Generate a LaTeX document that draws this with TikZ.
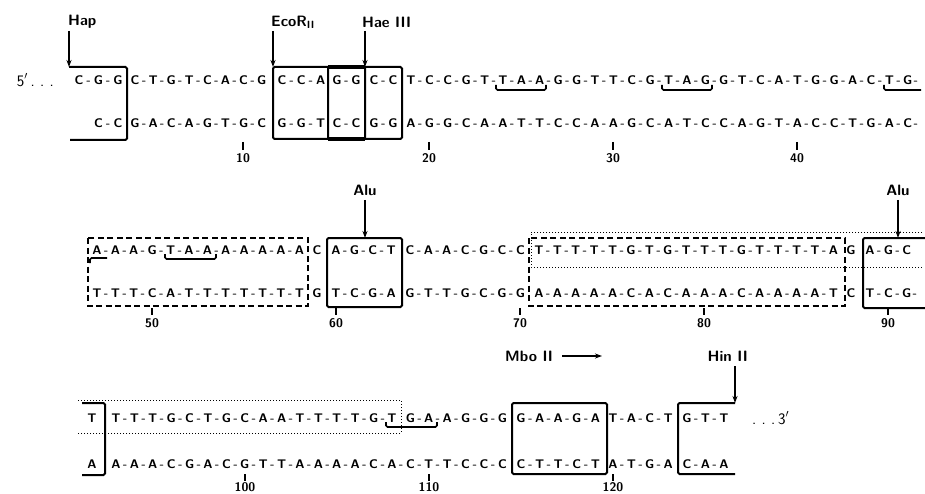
\documentclass[tikz,border=0pt]{standalone}
\usepackage{tikz}
\usetikzlibrary{arrows.meta}
\tikzset{
  base/.style={font=\fontsize{12.5}{12.5}\sffamily\bfseries,inner sep=0pt,text height=8.6pt,text depth=0pt},
  site/.style={font=\fontsize{15}{15}\sffamily\bfseries,inner sep=0pt},
  num/.style={font=\fontsize{12.5}{12.5}\sffamily\bfseries,inner sep=0pt},
  endlab/.style={font=\fontsize{16}{16}\sffamily,inner sep=0pt},
  box/.style={line width=2pt,rounded corners=1.5pt},
  dbox/.style={line width=1.8pt,dash pattern=on 6pt off 3.5pt},
  obox/.style={line width=1pt,dash pattern=on 1pt off 2pt},
  cut/.style={line width=1.3pt,-{Stealth[length=7pt,width=5pt]}},
  codon/.style={line width=1.6pt,rounded corners=1.5pt},
  tick/.style={line width=1.2pt}
}
% one strand segment: name, first x, pitch, y, bases
\newcommand{\strand}[5]{%
  \foreach \b [count=\i from 0] in {#5}{
    \node[base] (#1-\i) at ({#2+\i*#3},#4) {\b};
    \ifnum\i>0 \node[base] (#1-d\i) at ({#2+(\i-0.5)*#3},#4) {-};\fi
  }}

\begin{document}
\begin{tikzpicture}[x=1pt,y=-1pt]
\useasboundingbox (0,0) rectangle (925,494);

% row 1
\node[site,anchor=west] (hap) at (68,22) {Hap};
\node[site,anchor=west] (ecor) at (271,22) {EcoR\textsubscript{II}};
\node[site,anchor=west] (hae) at (362,22) {Hae III};
\coordinate (hapcut) at (69,67);
\coordinate (ecocut) at (273,67);
\coordinate (haecut) at (365,67);
\foreach \c in {hapcut,ecocut,haecut}
  \draw[cut] (\c |- 0,31) -- (\c);
\draw[box] (hapcut) -- (127,67) -- (127,140) -- (70,140);
\draw[box] (ecocut) rectangle (365,139);
\draw[box] (328,67) rectangle (402,139);
\draw[line width=4pt] (328,67) -- (365,67);
\draw[line width=4pt] (328,139) -- (365,139);

\node[endlab,anchor=east] (five) at (54,80) {5$'$\,.\,\,.\,\,.};
\strand{t1a}{79}{19.5}{80}{C,G,G}
\strand{t1b}{135}{18.1}{80}{C,T,G,T,C,A,C,G}
\strand{t1c}{282}{19.3}{80}{C,C,A}
\strand{t1d}{337}{19}{80}{G,G}
\strand{t1e}{374}{19}{80}{C,C}
\strand{t1f}{411}{18.4}{80}{T,C,C,G,T,T,A,A,G,G,T,T,C,G,T,A,G,G,T,C,A,T,G,G,A,C,T,G}
\node[base] (t1end) at (916,80) {-};
\strand{b1a}{98.5}{19.5}{123}{C,C}
\strand{b1b}{135}{18.1}{123}{G,A,C,A,G,T,G,C}
\strand{b1c}{282}{19.3}{123}{G,G,T}
\strand{b1d}{337}{19}{123}{C,C}
\strand{b1e}{374}{19}{123}{G,G}
\strand{b1f}{411}{18.4}{123}{A,G,G,C,A,A,T,T,C,C,A,A,G,C,A,T,C,C,A,G,T,A,C,C,T,G,A,C}
\node[base] (b1end) at (916,123) {-};

\draw[codon] (496,85) |- (546,90) -- (546,85);
\draw[codon] (662,85) |- (712,90) -- (712,85);
\draw[codon] (884,85) |- (921,90);

\foreach \x/\n in {243/10,429/20,613/30,797/40}{
  \draw[tick] (\x,142) -- (\x,150);
  \node[num] (n\n) at (\x,158) {\n};
}

% row 2
\node[site] (alu1) at (365,190) {Alu};
\node[site] (alu2) at (898,190) {Alu};
\coordinate (alucut1) at (365,238);
\coordinate (alucut2) at (898,238);
\draw[cut] (alu1.south |- 0,200) -- (alucut1);
\draw[cut] (alu2.south |- 0,200) -- (alucut2);
\draw[dbox] (88,238) rectangle (308,306);
\draw[dbox] (529,238) rectangle (845,306);
\draw[obox] (922,232) -- (531,232) -- (531,267) -- (922,267);
\draw[box] (327,238) rectangle (402,307);
\draw[box] (925,238) -- (863,238) -- (863,308) -- (925,308);

\strand{t2a}{97}{18.4}{250}{A,A,A,G,T,A,A,A,A,A,A,A}
\strand{t2b}{317}{18.4}{250}{C}
\strand{t2c}{336}{18.4}{250}{A,G,C,T}
\strand{t2d}{410}{18.4}{250}{C,A,A,C,G,C,C}
\strand{t2e}{539}{18.4}{250}{T,T,T,T,T,G,T,G,T,T,T,G,T,T,T,T,A}
\strand{t2f}{851}{18.4}{250}{G}
\strand{t2g}{870}{18.4}{250}{A,G,C}
\strand{b2a}{97}{18.4}{293}{T,T,T,C,A,T,T,T,T,T,T,T}
\strand{b2b}{317}{18.4}{293}{G}
\strand{b2c}{336}{18.4}{293}{T,C,G,A}
\strand{b2d}{410}{18.4}{293}{G,T,T,G,C,G,G}
\strand{b2e}{539}{18.4}{293}{A,A,A,A,A,C,A,C,A,A,A,C,A,A,A,A,T}
\strand{b2f}{851}{18.4}{293}{C}
\strand{b2g}{870}{18.4}{293}{T,C,G}
\node[base] (b2end) at (915,293) {-};

\draw[codon] (90,263) |- (107,258);
\draw[codon] (165,254) |- (216,259) -- (216,254);

\foreach \x/\n in {152/50,336/60,520/70,704/80,888/90}{
  \draw[tick] (\x,308) -- (\x,315);
  \node[num] (n\n) at (\x,323) {\n};
}

% row 3
\node[site,anchor=west] (mbo) at (505,356) {Mbo II};
\coordinate (mboend) at (602,356);
\draw[line width=1.1pt,-{Stealth[length=7pt,width=5pt]}] ([xshift=9pt]mbo.east) -- (mboend);
\node[site,anchor=east] (hin) at (748,356) {Hin II};
\coordinate (hincut) at (735,403);
\draw[cut] (hincut |- 0,366) -- (hincut);
\draw[obox] (78,400) -- (401,400) -- (401,433) -- (78,433);
\draw[box] (82,403) -- (105,403) -- (105,475) -- (82,475);
\draw[box] (512,403) rectangle (607,474);
\draw[box] (hincut) -- (678,403) -- (678,474) -- (735,474);

\strand{t3a}{92}{18.4}{418}{T}
\strand{t3b}{116}{18.4}{418}{T,T,T,G,C,T,G,C,A,A,T,T,T,T,G,T}
\strand{t3c}{410.4}{18.4}{418}{G,A,A,G,G,G}
\strand{t3d}{521}{18.6}{418}{G,A,A,G,A}
\strand{t3e}{613}{18.4}{418}{T,A,C,T}
\strand{t3f}{687}{18.5}{418}{G,T,T}
\node[endlab,anchor=west] (three) at (752,418) {.\,\,.\,\,.\,3$'$};
\strand{b3a}{92}{18.4}{464}{A}
\strand{b3b}{116}{18.4}{464}{A,A,A,C,G,A,C,G,T,T,A,A,A,A,C,A,C,T,T,C,C,C}
\strand{b3d}{521}{18.6}{464}{C,T,T,C,T}
\strand{b3e}{613}{18.4}{464}{A,T,G,A}
\strand{b3f}{687}{18.5}{464}{C,A,A}

\draw[codon] (386,422) |- (437,427) -- (437,422);

\foreach \x/\n in {245/100,429/110,613/120}{
  \draw[tick] (\x,474) -- (\x,481);
  \node[num] (n\n) at (\x,487) {\n};
}
\end{tikzpicture}
\end{document}
